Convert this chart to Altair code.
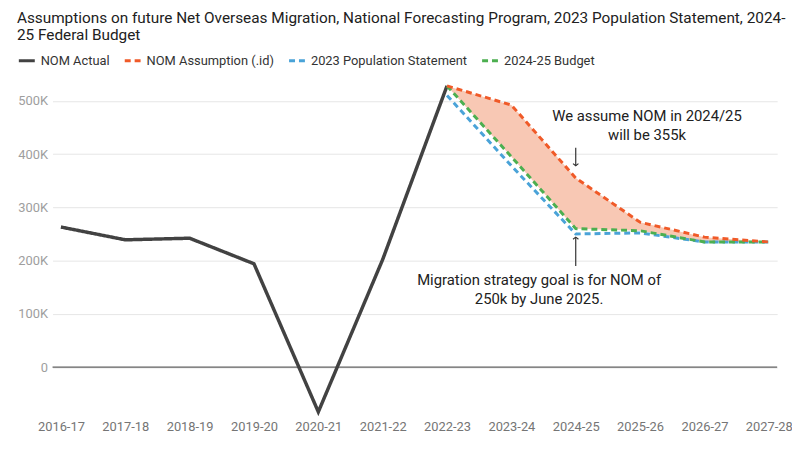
import altair as alt
import pandas as pd

years = ["2016-17", "2017-18", "2018-19", "2019-20", "2020-21", "2021-22",
         "2022-23", "2023-24", "2024-25", "2025-26", "2026-27", "2027-28"]
actual_years = years[:7]
actual = [263000, 239000, 242000, 194000, -84000, 202000, 528000]
fc_years = years[6:]
nom_id = [528000, 492000, 355000, 272000, 244000, 235000]
pop_stmt = [510000, 378000, 250000, 252000, 235000, 235000]
budget = [528000, 395000, 260000, 256000, 235000, 235000]

series_names = ["NOM Actual", "NOM Assumption (.id)", "2023 Population Statement", "2024-25 Budget"]
series_colors = ["#424242", "#f05a28", "#4aa3d8", "#4caf50"]
series_dash = [[1, 0], [6, 4], [6, 4], [6, 4]]

rows = []
for y, v in zip(actual_years, actual):
    rows.append({"year": y, "value": v, "series": series_names[0]})
for y, v in zip(fc_years, nom_id):
    rows.append({"year": y, "value": v, "series": series_names[1]})
for y, v in zip(fc_years, pop_stmt):
    rows.append({"year": y, "value": v, "series": series_names[2]})
for y, v in zip(fc_years, budget):
    rows.append({"year": y, "value": v, "series": series_names[3]})
long_df = pd.DataFrame(rows)
band_df = pd.DataFrame({"year": fc_years, "upper": nom_id, "lower": budget})

notes_df = pd.DataFrame({
    "year": ["2024-25", "2024-25"],
    "value": [471000, 164000],
    "label": ["We assume NOM in 2024/25\nwill be 355k",
              "Migration strategy goal is for NOM of\n250k by June 2025."],
    "dx": [72, -37],
})
arrows_df = pd.DataFrame({"year": ["2024-25", "2024-25"],
                          "start": [412000, 190000], "end": [378000, 244000],
                          "shape": ["M-1,-0.8L0,0L1,-0.8", "M-1,0.8L0,0L1,0.8"]})

x_enc = alt.X("year:O", scale=alt.Scale(type="point", domain=years, padding=0.13),
              axis=alt.Axis(labelAngle=0, ticks=False, domain=False, grid=False, title=None,
                            labelFontSize=13, labelColor="#757575", labelPadding=6))
y_scale = alt.Scale(domain=[-90000, 540000], nice=False, zero=False)
y_axis = alt.Axis(values=[0, 100000, 200000, 300000, 400000, 500000],
                  labelExpr="datum.value == 0 ? '0' : format(datum.value / 1000, 'd') + 'K'",
                  grid=True, gridColor="#e6e6e6", domain=False, ticks=False,
                  labelColor="#9e9e9e", labelFontSize=13, labelPadding=5, title=None)

base = alt.Chart(long_df)

area = alt.Chart(band_df).mark_area(color="#f8c8b4", opacity=1).encode(
    x=x_enc,
    y=alt.Y("upper:Q", scale=y_scale, axis=y_axis),
    y2="lower:Q",
)

zero = alt.Chart(pd.DataFrame({"v": [0]})).mark_rule(color="#616161", strokeWidth=1.5).encode(
    y=alt.Y("v:Q", scale=y_scale)
)

legend_params = dict(title=None, orient="none", direction="horizontal",
                     legendX=-36, legendY=-29, symbolType="stroke",
                     symbolStrokeWidth=3, symbolSize=260,
                     labelFontSize=13, labelColor="#333333",
                     columnPadding=8, labelOffset=4)
color_enc = alt.Color("series:N", scale=alt.Scale(domain=series_names, range=series_colors),
                      legend=alt.Legend(**legend_params))
dash_enc = alt.StrokeDash("series:N", scale=alt.Scale(domain=series_names, range=series_dash),
                          legend=alt.Legend(**legend_params))

def line_layer(name, width):
    return base.transform_filter(alt.datum.series == name).mark_line(strokeWidth=width).encode(
        x=x_enc, y=alt.Y("value:Q", scale=y_scale), color=color_enc, strokeDash=dash_enc,
        order=alt.Order("year:O"))

lines = [line_layer(series_names[0], 3.5), line_layer(series_names[2], 3),
         line_layer(series_names[3], 3), line_layer(series_names[1], 3)]

arrow_rules = alt.Chart(arrows_df).mark_rule(color="#333333", strokeWidth=1.2).encode(
    x=x_enc, y=alt.Y("start:Q", scale=y_scale), y2="end:Q")
arrow_heads = alt.Chart(arrows_df).mark_point(filled=False, color="#333333", strokeWidth=1.2,
                                              size=30, opacity=1).encode(
    x=x_enc, y=alt.Y("end:Q", scale=y_scale), shape=alt.Shape("shape:N", scale=None))

notes = alt.Chart(notes_df).mark_text(fontSize=15, color="#212121", lineBreak="\n",
                                      lineHeight=19, baseline="middle", align="center").encode(
    x=x_enc, y=alt.Y("value:Q", scale=y_scale), text="label:N", xOffset=alt.XOffset("dx:Q", scale=None))

chart = alt.layer(area, zero, *lines, arrow_rules, arrow_heads, notes).resolve_scale(
    color="shared", strokeDash="shared"
).properties(
    width=732, height=339,
    title=alt.TitleParams(
        text=["Assumptions on future Net Overseas Migration, National Forecasting Program, 2023 Population Statement, 2024-",
              "25 Federal Budget"],
        anchor="start", frame="group", fontSize=15.5, fontWeight="normal", color="#212121",
        dx=-36, lineHeight=18, offset=7),
    autosize=alt.AutoSizeParams(type="none"),
    padding={"left": 45, "top": 70, "right": 15, "bottom": 25},
).configure(font="Roboto").configure_view(stroke=None)

chart.save("out.html", embed_options={"renderer": "svg", "actions": False})
